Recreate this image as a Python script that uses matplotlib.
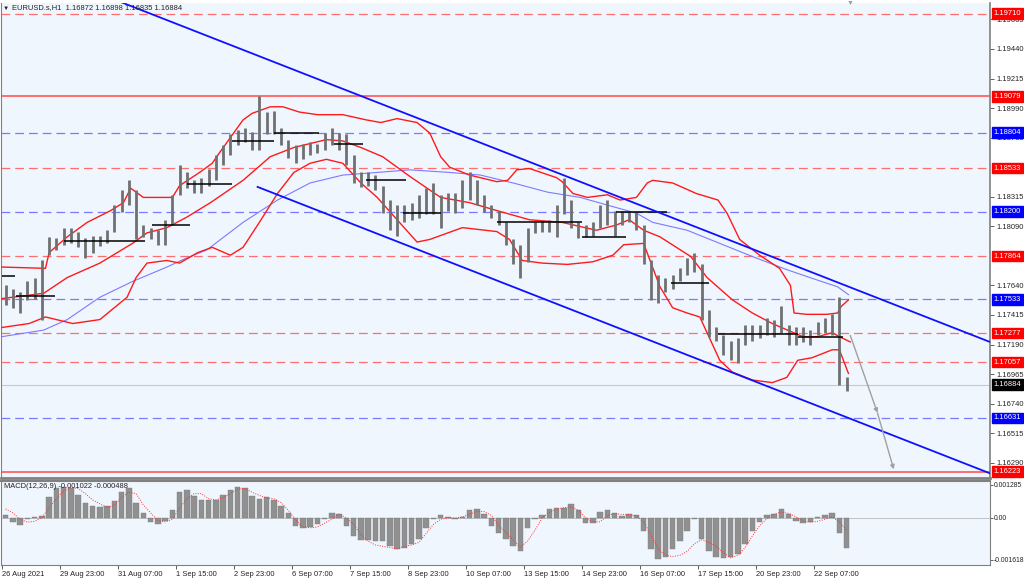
import matplotlib
matplotlib.use("Agg")
import matplotlib.pyplot as plt
import matplotlib.transforms as mtransforms

plt.rcParams['font.family'] = ['Liberation Sans', 'DejaVu Sans']

# ---- price bars (4-hour blocks of the H1 chart) ----
bar_high = [1.1764, 1.1761, 1.1759, 1.1767, 1.1770, 1.1783, 1.1801, 1.1800, 1.1808, 1.1808,
            1.1805, 1.1800, 1.1802, 1.1802, 1.1806, 1.1825, 1.1837, 1.1844, 1.1837, 1.1810,
            1.1808, 1.1806, 1.1814, 1.1833, 1.1856, 1.1850, 1.1844, 1.1846, 1.1853, 1.1863,
            1.1871, 1.1879, 1.1882, 1.1884, 1.1881, 1.1908, 1.1896, 1.1897, 1.1884, 1.1875,
            1.1871, 1.1872, 1.1873, 1.1872, 1.1880, 1.1884, 1.1880, 1.1879, 1.1863, 1.1850,
            1.1850, 1.1848, 1.1840, 1.1829, 1.1825, 1.1825, 1.1827, 1.1833, 1.1838, 1.1842,
            1.1833, 1.1834, 1.1834, 1.1844, 1.1850, 1.1844, 1.1833, 1.1825, 1.1821, 1.1812,
            1.1799, 1.1795, 1.1808, 1.1812, 1.1814, 1.1814, 1.1825, 1.1846, 1.1829, 1.1812,
            1.1810, 1.1812, 1.1825, 1.1829, 1.1821, 1.1821, 1.1821, 1.1820, 1.1810, 1.1783,
            1.1772, 1.1770, 1.1772, 1.1777, 1.1785, 1.1789, 1.1780, 1.1745, 1.1732, 1.1726,
            1.1722, 1.1724, 1.1734, 1.1734, 1.1734, 1.1739, 1.1738, 1.1748, 1.1734, 1.1732,
            1.1732, 1.1730, 1.1736, 1.1739, 1.1742, 1.1755, 1.1694]
bar_low = [1.1749, 1.1747, 1.1743, 1.1753, 1.1754, 1.1738, 1.1787, 1.1791, 1.1795, 1.1796,
           1.1793, 1.1785, 1.1789, 1.1794, 1.1796, 1.1805, 1.1820, 1.1825, 1.1799, 1.1801,
           1.1799, 1.1795, 1.1795, 1.1810, 1.1833, 1.1838, 1.1834, 1.1834, 1.1840, 1.1844,
           1.1856, 1.1863, 1.1871, 1.1873, 1.1867, 1.1867, 1.1879, 1.1879, 1.1871, 1.1861,
           1.1857, 1.1860, 1.1863, 1.1865, 1.1867, 1.1871, 1.1867, 1.1856, 1.1842, 1.1839,
           1.1840, 1.1837, 1.1819, 1.1806, 1.1802, 1.1812, 1.1814, 1.1815, 1.1818, 1.1818,
           1.1808, 1.1821, 1.1819, 1.1823, 1.1829, 1.1825, 1.1820, 1.1815, 1.1810, 1.1795,
           1.1780, 1.1770, 1.1782, 1.1804, 1.1805, 1.1805, 1.1801, 1.1818, 1.1808, 1.1800,
           1.1801, 1.1802, 1.1808, 1.1810, 1.1802, 1.1810, 1.1812, 1.1806, 1.1780, 1.1753,
           1.1751, 1.1759, 1.1761, 1.1767, 1.1772, 1.1774, 1.1738, 1.1725, 1.1722, 1.1711,
           1.1707, 1.1705, 1.1719, 1.1722, 1.1724, 1.1726, 1.1725, 1.1728, 1.1719, 1.1719,
           1.1721, 1.1719, 1.1726, 1.1728, 1.1726, 1.1688, 1.1684]
bar_hours = [4 * i + 2 for i in range(len(bar_high))]

# ---- Bollinger bands and moving average (hour index, price) ----
bb_up_x = [0, 24, 26, 36, 47, 60, 67, 71, 78, 91, 94, 98, 109, 116, 120, 133, 138, 148, 155,
           164, 174, 188, 201, 209, 218, 229, 236, 242, 247, 258, 273, 279, 284, 291, 306, 309,
           315, 323, 334, 341, 350, 356, 359, 370, 383, 395, 400, 407, 418, 429, 435, 437, 444,
           455, 461, 463, 467]
bb_up_y = [1.1778, 1.1777, 1.1789, 1.1801, 1.1812, 1.1821, 1.1827, 1.1838, 1.1831, 1.1831,
           1.1831, 1.1840, 1.1850, 1.1857, 1.1865, 1.1890, 1.1895, 1.1900, 1.1900, 1.1896,
           1.1894, 1.1894, 1.1890, 1.1888, 1.1891, 1.1888, 1.1880, 1.1862, 1.1854, 1.1848,
           1.1843, 1.1844, 1.1852, 1.1853, 1.1846, 1.1843, 1.1834, 1.1831, 1.1833, 1.1829,
           1.1831, 1.1842, 1.1844, 1.1842, 1.1834, 1.1829, 1.1819, 1.1799, 1.1787, 1.1777,
           1.1764, 1.1743, 1.1742, 1.1742, 1.1743, 1.1748, 1.1753]
bb_mid_x = [0, 23, 36, 54, 72, 80, 91, 102, 115, 133, 148, 161, 170, 179, 188, 198, 210, 225,
            242, 258, 273, 291, 309, 328, 339, 346, 354, 363, 380, 389, 403, 414, 425, 435, 442,
            450, 458, 462, 468]
bb_mid_y = [1.1754, 1.1758, 1.1770, 1.1781, 1.1796, 1.1804, 1.1808, 1.1816, 1.1827, 1.1844,
            1.1862, 1.1869, 1.1872, 1.1875, 1.1874, 1.1869, 1.1862, 1.1847, 1.1831, 1.1827,
            1.1821, 1.1814, 1.1812, 1.1806, 1.1810, 1.1814, 1.1806, 1.1801, 1.1786, 1.1770,
            1.1753, 1.1743, 1.1735, 1.1729, 1.1725, 1.1725, 1.1728, 1.1725, 1.1721]
bb_low_x = [0, 15, 24, 30, 39, 54, 69, 74, 80, 91, 98, 108, 116, 126, 133, 142, 152, 161, 170,
            179, 188, 198, 207, 218, 229, 236, 254, 273, 280, 287, 298, 312, 326, 337, 343, 354,
            363, 370, 378, 385, 396, 403, 414, 425, 433, 439, 447, 458, 462, 467]
bb_low_y = [1.1732, 1.1735, 1.1740, 1.1738, 1.1735, 1.1738, 1.1755, 1.1770, 1.1781, 1.1783,
            1.1781, 1.1789, 1.1793, 1.1787, 1.1793, 1.1812, 1.1834, 1.1850, 1.1857, 1.1860,
            1.1857, 1.1842, 1.1831, 1.1814, 1.1797, 1.1799, 1.1808, 1.1805, 1.1799, 1.1783,
            1.1781, 1.1780, 1.1782, 1.1787, 1.1795, 1.1796, 1.1763, 1.1747, 1.1743, 1.1740,
            1.1707, 1.1698, 1.1692, 1.1690, 1.1694, 1.1707, 1.1709, 1.1715, 1.1715, 1.1697]
ma_x = [0, 23, 36, 54, 72, 91, 102, 113, 133, 152, 170, 188, 207, 225, 247, 264, 282, 301, 319,
        337, 350, 359, 378, 396, 414, 433, 450, 461, 467]
ma_y = [1.1725, 1.1730, 1.1738, 1.1755, 1.1767, 1.1778, 1.1785, 1.1791, 1.1812, 1.1829, 1.1842,
        1.1848, 1.1850, 1.1852, 1.1850, 1.1848, 1.1842, 1.1835, 1.1831, 1.1824, 1.1819, 1.1812,
        1.1806, 1.1796, 1.1786, 1.1776, 1.1768, 1.1763, 1.1757]

# ---- drawn objects ----
channel_top_x = [65, 545]
channel_top_y = [1.1980, 1.1721]
channel_bot_x = [141, 545]
channel_bot_y = [1.1839, 1.1621]
proj_x = [468, 483, 492]
proj_y = [1.1726, 1.1667, 1.1624]

seg_start = [0, 8, 34, 83, 102, 127, 150, 183, 201, 221, 273, 320, 339, 369, 395, 439]
seg_end = [7, 29, 79, 104, 127, 150, 175, 199, 223, 242, 320, 344, 367, 390, 439, 464]
seg_price = [1.1771, 1.1756, 1.1798, 1.1810, 1.1841, 1.1874, 1.1880, 1.1872, 1.1844, 1.1819,
             1.1812, 1.1801, 1.1820, 1.1766, 1.1727, 1.1725]

level_prices = [1.19710, 1.19079, 1.18804, 1.18533, 1.18200, 1.17864, 1.17533, 1.17277,
                1.17057, 1.16631, 1.16223]
level_kind = ['red', 'red_solid', 'blue', 'red', 'blue', 'red', 'blue', 'red', 'red', 'blue',
              'red_solid']
last_price = 1.16884

# scale labels that stay visible next to the level boxes
price_ticks = [1.19665, 1.19440, 1.19215, 1.18990, 1.18765, 1.18315, 1.18090,
               1.17640, 1.17415, 1.17190, 1.16965, 1.16740, 1.16515, 1.16290]

# ---- MACD (x1e-4) ----
macd_hist = [1.0, -1.5, -2.8, -0.5, 0.5, 0.8, 8, 11.5, 12, 11.5,
             9, 6, 4.5, 4.2, 4.5, 6.5, 10, 11.5, 6, 2,
             -1.5, -2.5, -1, 3, 10, 11, 8.5, 7, 7, 7,
             9, 11, 12, 11.5, 8.5, 7.5, 8, 7, 4.5, 2,
             -3, -4, -3.5, -2.5, -0.5, 2, 1.5, -3, -7, -8.5,
             -8.5, -9, -9, -11, -12, -11.5, -10, -8, -4, -0.5,
             1, 0.3, -0.3, 0.5, 3, 3.5, 1.5, -3, -6, -8,
             -11, -13, -4, -0.5, 1, 3.5, 4, 4, 5.5, 3,
             -2, -2, 2.5, 3, 2, 0.8, 1.5, 1, -5, -12,
             -16, -15, -12, -9, -5, -0.5, -8, -13, -15, -15.5,
             -15, -14, -10, -5, -1.5, 1, 1.5, 3.5, 1.5, -1,
             -2, -1.5, 0.3, 1, 2, -6, -11.5]
macd_signal = [3.5, 2, -0.5, -1.6, -1.3, 0.2, 4, 7.5, 10.5, 11.8,
               11.5, 9.5, 7, 5.5, 4, 5, 8, 10, 9.5, 5,
               2, -1, -1.5, -0.5, 4, 7.5, 9.5, 9.5, 7.5, 7,
               8, 9.5, 11.2, 11.5, 10, 8.8, 7.8, 7.5, 6, 3,
               -0.8, -3.5, -3.8, -3.5, -2, -0.5, 1.5, 0, -2.5, -6.5,
               -9, -10.5, -11, -11.5, -12, -11, -10.5, -9.5, -6, -2.5,
               -0.5, 0, 0, 0.4, 1.5, 2.6, 2.5, 1, -3, -5.5,
               -8.5, -11.3, -9, -4.8, 0, 2.2, 3.4, 4, 4.3, 3,
               0, -1.5, -1.5, 1, 1.7, 1.4, 1.3, 0.8, -1.5, -6.5,
               -12, -14.5, -15, -14.5, -13, -10, -8.5, -9.5, -11, -13.5,
               -15.5, -14.5, -11.5, -7, -3, -0.3, 1.5, 2.3, 1.8, 0.5,
               -1.2, -1.6, -1.3, -0.5, 0.4, -1.5, -4.8]

date_ticks = [0, 32, 64, 96, 128, 160, 192, 224, 256, 288, 320, 352, 384, 416, 448]
date_labels = ["26 Aug 2021", "29 Aug 23:00", "31 Aug 07:00", "1 Sep 15:00", "2 Sep 23:00",
               "6 Sep 07:00", "7 Sep 15:00", "8 Sep 23:00", "10 Sep 07:00", "13 Sep 15:00",
               "14 Sep 23:00", "16 Sep 07:00", "17 Sep 15:00", "20 Sep 23:00", "22 Sep 07:00"]

bg = '#f0f6fe'
frame = '#808080'
fs = 5.4

fig = plt.figure(figsize=(10.24, 5.79), dpi=100)
ax = fig.add_axes([1 / 1024, 1 - 478 / 579, 989 / 1024, 475 / 579], facecolor=bg)
ax2 = fig.add_axes([1 / 1024, 1 - 565 / 579, 989 / 1024, 84 / 579], facecolor=bg, sharex=ax)

xlim = (-0.55, 545.1)
ax.set_xlim(*xlim)
ax.set_ylim(1.16174, 1.19790)

# levels
colors = {'red': '#ff6e6e', 'red_solid': '#ff6e6e', 'blue': '#7a7aff'}
for p, k in zip(level_prices, level_kind):
    if k == 'red_solid':
        ax.axhline(p, color=colors[k], lw=1.4, zorder=1)
    else:
        ax.axhline(p, color=colors[k], lw=0.9, dashes=(7, 4), zorder=1)
ax.axhline(last_price, color='#c8c8c8', lw=0.8, zorder=1)

# indicators
ax.plot(ma_x, ma_y, color='#7b7bff', lw=0.8, zorder=2)
for xs, ys in [(bb_up_x, bb_up_y), (bb_mid_x, bb_mid_y), (bb_low_x, bb_low_y)]:
    ax.plot(xs, ys, color='#ff1a1a', lw=1.0, zorder=3)

# bars
ax.vlines(bar_hours, bar_low, bar_high, color='#707070', lw=2.0, zorder=4)
ax.hlines(seg_price, seg_start, seg_end, color='black', lw=1.1, zorder=5)

# channel
ax.plot(channel_top_x, channel_top_y, color='#1010ff', lw=1.3, zorder=6)
ax.plot(channel_bot_x, channel_bot_y, color='#1010ff', lw=1.3, zorder=6)
for i in range(len(proj_x) - 1):
    ax.annotate('', xy=(proj_x[i + 1], proj_y[i + 1]), xytext=(proj_x[i], proj_y[i]),
                arrowprops=dict(arrowstyle='-|>', color='#a0a0a0', lw=1.0,
                                mutation_scale=6, shrinkA=0, shrinkB=0), zorder=6)

# right price axis
ax.yaxis.tick_right()
ax.set_yticks(price_ticks)
ax.set_yticklabels(['%.5f' % v for v in price_ticks])
ax.tick_params(axis='y', labelsize=fs, length=3, width=0.6, color='#444', pad=1.5,
               labelcolor='#222')
ax.tick_params(axis='x', bottom=False, labelbottom=False)
trans = mtransforms.blended_transform_factory(ax.transAxes, ax.transData)
box_colors = {'red': '#ff0000', 'red_solid': '#ff0000', 'blue': '#0000ff'}
for p, k in zip(level_prices, level_kind):
    ax.text(1.0035, p, '%.5f' % p, transform=trans, fontsize=fs, color='white', va='center',
            ha='left', zorder=10, clip_on=False,
            bbox=dict(boxstyle='square,pad=0.25', fc=box_colors[k], ec=box_colors[k]))
ax.text(1.0035, last_price, '%.5f' % last_price, transform=trans, fontsize=fs, color='white',
        va='center', ha='left', zorder=10, clip_on=False,
        bbox=dict(boxstyle='square,pad=0.25', fc='black', ec='black'))

ax.spines['top'].set_visible(False)
ax.spines['right'].set_color(frame)
ax.spines['right'].set_linewidth(1.2)
ax.spines['left'].set_color(frame)
ax.spines['bottom'].set_color(frame)
ax.spines['bottom'].set_linewidth(2)

fig.text(3 / 1024, 1 - 8 / 579, '\u25bc', fontsize=4.5, va='center', color='#222')
fig.text(12 / 1024, 1 - 8 / 579, 'EURUSD.s,H1  1.16872 1.16898 1.16835 1.16884', fontsize=fs,
         va='center', color='#222')
fig.text(850 / 1024, 1 - 3 / 579, '\u25bc', fontsize=5, va='center', ha='center',
         color='#a0a0a0')

# MACD
scale = 1e-4
ax2.set_ylim(-0.001828, 0.001439)
ax2.bar(bar_hours, [v * scale for v in macd_hist], width=3.0, color='#909090',
        edgecolor='#808080', lw=0.3, zorder=2)
ax2.plot(bar_hours, [v * scale for v in macd_signal], color='#ff3030', lw=0.7,
         ls=(0, (1, 1.5)), zorder=3)
ax2.axhline(0, color='#b8b8b8', lw=0.6, zorder=1)
ax2.yaxis.tick_right()
ax2.set_yticks([0.001285, 0.0, -0.001618])
ax2.set_yticklabels(['0.001285', '0.00', '-0.001618'])
ax2.tick_params(axis='y', labelsize=4.9, length=2, width=0.6, color='#444', pad=1,
                labelcolor='#222')
ax2.set_xticks(date_ticks)
ax2.set_xticklabels(date_labels)
for lab in ax2.get_xticklabels():
    lab.set_ha('left')
ax2.tick_params(axis='x', labelsize=fs, length=3, width=0.6, color='#444', pad=1,
                labelcolor='#222')
ax2.set_xlim(*xlim)
for s in ['top', 'right', 'bottom', 'left']:
    ax2.spines[s].set_color(frame)
ax2.spines['top'].set_linewidth(1.5)
ax2.text(0.003, 0.93, 'MACD(12,26,9) -0.001022 -0.000488', transform=ax2.transAxes,
         fontsize=fs, va='center', ha='left', color='#222', zorder=5)

fig.savefig('out.png', dpi=100, facecolor='white')
